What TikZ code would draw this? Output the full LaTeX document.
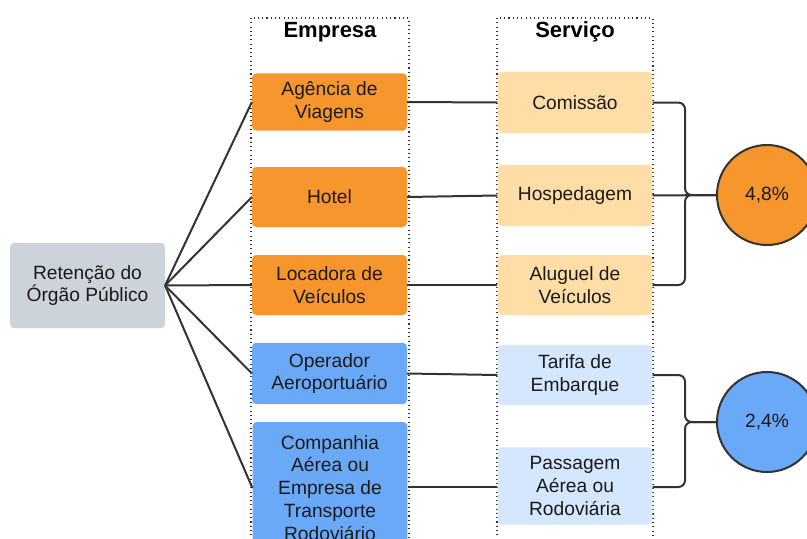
\documentclass[tikz,border=0pt]{standalone}
\usepackage{fontspec}
\setmainfont{Liberation Sans}
\definecolor{orangeA}{HTML}{F8962E}
\definecolor{orangeL}{HTML}{FEDDA6}
\definecolor{blueA}{HTML}{6AA8F8}
\definecolor{blueL}{HTML}{D5E7FD}
\definecolor{grayA}{HTML}{CDD3DB}
\definecolor{lineC}{HTML}{333333}
\definecolor{txtC}{HTML}{1A1A1A}
\tikzset{
  box/.style={rounded corners=3pt, minimum width=116pt, align=center, inner sep=0pt,
    font=\fontsize{14.4pt}{17.2pt}\selectfont, text=txtC},
  obox/.style={box, fill=orangeA},
  olbox/.style={box, fill=orangeL},
  bbox/.style={box, fill=blueA},
  blbox/.style={box, fill=blueL},
  gbox/.style={box, fill=grayA},
  conn/.style={draw=lineC, line width=1.5pt},
  frame/.style={draw=lineC, line width=1pt, dash pattern=on 0.8pt off 2.4pt},
  pct/.style={circle, draw=lineC, line width=1.5pt, minimum size=75pt, inner sep=0pt,
    font=\fontsize{14.4pt}{17.2pt}\selectfont, text=txtC},
  hdr/.style={font=\bfseries\fontsize{16.5pt}{20pt}\selectfont, text=black}
}
\begin{document}
\begin{tikzpicture}[x=0.75pt,y=-0.75pt]
\clip (0,0) rectangle (807,539);
\fill[white] (0,0) rectangle (807,539);
% frames
\draw[frame] (251,18) rectangle (409,600);
\draw[frame] (497,18) rectangle (653,600);
\node[hdr] (h1) at (330,32) {Empresa};
\node[hdr] (h2) at (575,32) {Serviço};
% nodes
\node[gbox, minimum height=64pt, minimum width=116pt] (ret) at (87.5,285.5) {Retenção do\\Órgão Público};
\node[obox, minimum height=43pt] (ag) at (329.5,102) {Agência de\\Viagens};
\node[obox, minimum height=45pt] (hot) at (329.5,197) {Hotel};
\node[obox, minimum height=45pt] (loc) at (329.5,285) {Locadora de\\Veículos};
\node[bbox, minimum height=46pt] (op) at (329.5,373.5) {Operador\\Aeroportuário};
\node[bbox, minimum height=99pt] (comp) at (330,488) {Companhia\\Aérea ou\\Empresa de\\Transporte\\Rodoviário};
\node[olbox, minimum height=46pt] (com) at (575,102.5) {Comissão};
\node[olbox, minimum height=46pt] (hos) at (575,195.5) {Hospedagem};
\node[olbox, minimum height=45pt] (alu) at (575,285) {Aluguel de\\Veículos};
\node[blbox, minimum height=45pt] (tar) at (575,375) {Tarifa de\\Embarque};
\node[blbox, minimum height=58pt] (pas) at (575,486) {Passagem\\Aérea ou\\Rodoviária};
\node[pct, fill=orangeA] (c1) at (767,195) {4,8\%};
\node[pct, fill=blueA] (c2) at (767,422) {2,4\%};
\coordinate (j1) at (685,195);
\coordinate (j2) at (685,422);
% connectors
\foreach \t in {ag,hot,loc,op,comp}{\draw[conn] (ret.east) -- (\t.west);}
\draw[conn] (ag.east) -- (com.west);
\draw[conn] (hot.east) -- (hos.west);
\draw[conn] (loc.east) -- (alu.west);
\draw[conn] (op.east) -- (tar.west);
\draw[conn] (comp.east |- 0,487) -- (pas.west |- 0,487);
\draw[conn, rounded corners=5pt] (com.east) -| (j1) -- (c1.west);
\draw[conn, rounded corners=5pt] (alu.east) -| (j1) -- (c1.west);
\draw[conn] (hos.east) -- (c1.west);
\draw[conn, rounded corners=5pt] (tar.east) -| (j2) -- (c2.west);
\draw[conn, rounded corners=5pt] (pas.east |- 0,487) -| (j2) -- (c2.west);
\end{tikzpicture}
\end{document}
